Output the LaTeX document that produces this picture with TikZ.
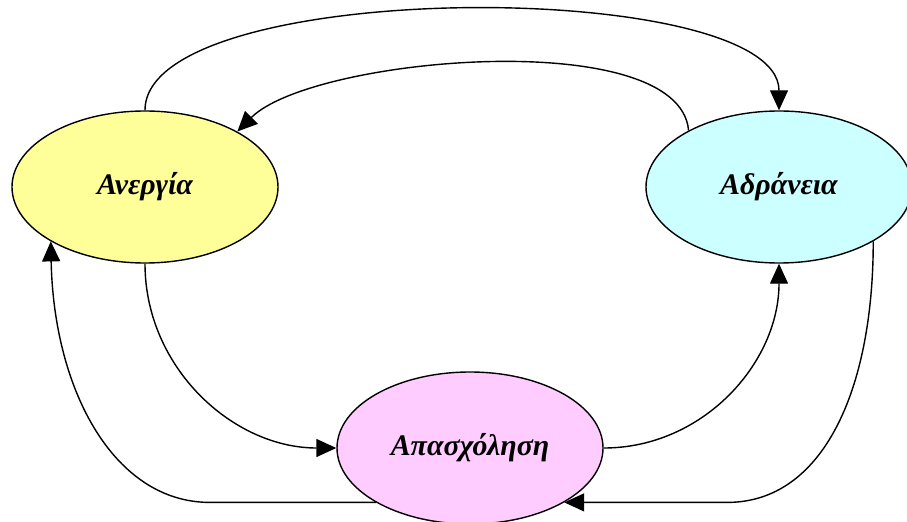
\documentclass[tikz,border=0pt]{standalone}
\usepackage{fontspec}
\usepackage{tikz}
\usetikzlibrary{arrows.meta,positioning,shapes.geometric}
\newfontfamily\greekfont{Liberation Serif}

\definecolor{aneyellow}{RGB}{255,255,153}
\definecolor{adrcyan}{RGB}{204,255,255}
\definecolor{apapink}{RGB}{255,204,255}

\begin{document}
\begin{tikzpicture}[->,>={Triangle[length=20bp,width=18bp]},x=1bp,y=1bp,
  line width=1.4bp,on grid,node distance=634bp,
  main node/.style={ellipse,draw,minimum width=266bp,minimum height=152bp,inner sep=0pt,
    font=\greekfont\bfseries\itshape\fontsize{30}{36}\selectfont}]

  \useasboundingbox (0,0) rectangle (907,-522);

  \node[main node,fill=aneyellow] (ane) at (145,-187) {Ανεργία};
  \node[main node,fill=adrcyan] (adr) [right=of ane] {Αδράνεια};
  \node[main node,fill=apapink] (apa) [below right=261bp and 325bp of ane] {Απασχόληση};

  \coordinate (bl) at ([xshift=-166bp]apa.210);
  \coordinate (br) at ([xshift=163bp]apa.330);

  \path
    (ane) edge [out=90,in=90,looseness=0.54] (adr)
    (adr.148) edge [out=95,in=45,looseness=0.6] (ane.31)
    (ane) edge [out=-90,in=180] (apa)
    (apa) edge [out=0,in=-90] (adr)
    ;

  \draw (apa.210) -- (bl) .. controls +(-95,0) and +(3,-150) .. (ane.210);
  \draw (adr.330) .. controls +(0,-150) and +(95,0) .. (br) -- (apa.330);

\end{tikzpicture}
\end{document}
